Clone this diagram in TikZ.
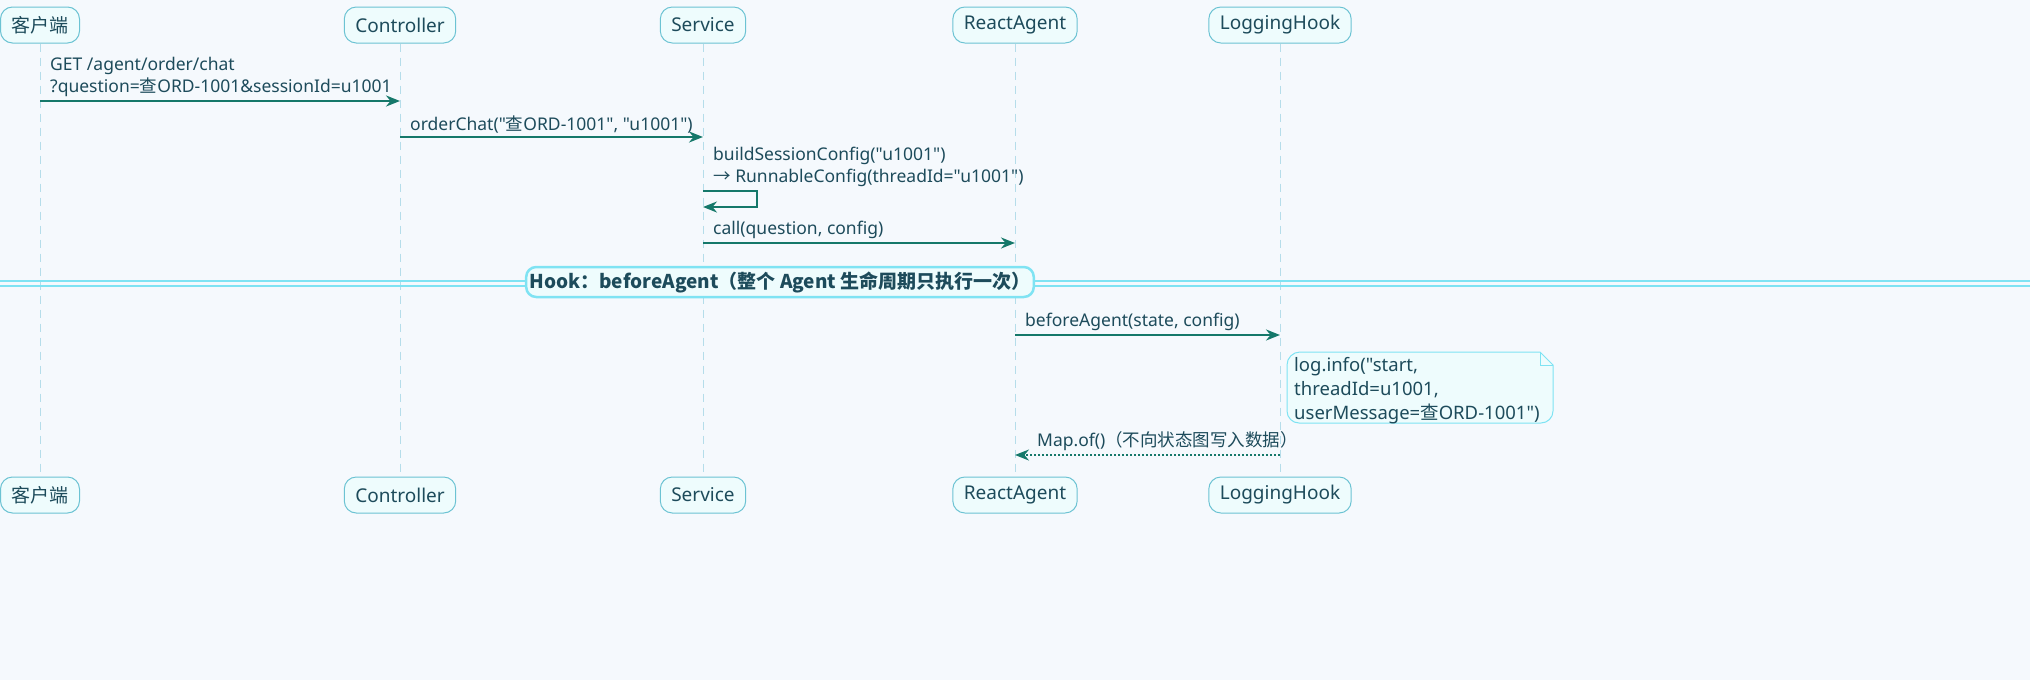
\documentclass[tikz,border=0pt]{standalone}
\usepackage{fontspec}
\setmainfont{Noto Sans}[Ligatures=TeXOff]
\newfontfamily\cjk{Noto Sans CJK SC}[Ligatures=TeXOff]
\usetikzlibrary{arrows.meta}
\definecolor{bgcol}{HTML}{F5F9FD}
\definecolor{boxfill}{HTML}{EEFCFD}
\definecolor{boxline}{HTML}{6CC3D3}
\definecolor{lifecol}{HTML}{B5DDEA}
\definecolor{msgcol}{HTML}{15786A}
\definecolor{txtcol}{HTML}{1D4B5B}
\definecolor{sepcol}{HTML}{7FE3F3}
\newcommand{\zh}[1]{{\cjk #1}}
\tikzset{
  actor/.style={draw=boxline, line width=1pt, fill=boxfill, rounded corners=12pt, minimum height=36pt, inner xsep=11pt, text=txtcol, font=\fontsize{19}{22}\selectfont},
  lifeline/.style={draw=lifecol, dash pattern=on 8pt off 6pt, line width=1pt},
  msg/.style={draw=msgcol, line width=2pt, -{Stealth[length=14pt,width=11pt]}},
  reply/.style={msg, dash pattern=on 2pt off 2pt},
  lbl/.style={anchor=south west, inner sep=0pt, text=txtcol, font=\fontsize{17.5}{22}\selectfont, align=left}
}
\begin{document}
\begin{tikzpicture}[x=1pt,y=-1pt]
  \fill[bgcol] (0,0) rectangle (2030,680);
  \useasboundingbox (0,0) rectangle (2030,680);

  % Teilnehmer oben und unten
  \foreach \name/\x/\txt in {cl/40/\zh{客户端}, ctrl/400/Controller, svc/703/Service, ra/1015/ReactAgent, lh/1280/LoggingHook} {
    \node[actor] (\name top) at (\x,25) {\txt};
    \node[actor] (\name bot) at (\x,495) {\txt};
    \draw[lifeline] (\name top.south) -- (\name bot.north);
  }

  % Nachrichten
  \coordinate (m1a) at (40,101);   \coordinate (m1b) at (400,101);
  \draw[msg] (m1a) -- (m1b);
  \node[lbl] at (50,97) {GET /agent/order/chat\\?question=\zh{查}ORD-1001\&sessionId=u1001};

  \coordinate (m2a) at (400,137);  \coordinate (m2b) at (703,137);
  \draw[msg] (m2a) -- (m2b);
  \node[lbl] at (410,133) {orderChat("\zh{查}ORD-1001", "u1001")};

  \coordinate (s1) at (703,191);   \coordinate (s2) at (757,191);
  \coordinate (s3) at (757,207);   \coordinate (s4) at (703,207);
  \draw[msg] (s1) -- (s2) -- (s3) -- (s4);
  \node[lbl] at (713,187) {buildSessionConfig("u1001")\\\zh{→} RunnableConfig(threadId="u1001")};

  \coordinate (m4a) at (703,243);  \coordinate (m4b) at (1015,243);
  \draw[msg] (m4a) -- (m4b);
  \node[lbl] at (713,239) {call(question, config)};

  % Trenner
  \draw[sepcol, line width=1.5pt] (0,281) -- (2030,281) (0,286) -- (2030,286);
  \node[draw=sepcol, line width=2.5pt, fill=boxfill, rounded corners=10pt, minimum width=486pt, minimum height=30pt, text=txtcol, font=\fontsize{19}{22}\cjk\bfseries] (sep) at (780,282) {Hook：beforeAgent（整个 Agent 生命周期只执行一次）};

  \coordinate (m5a) at (1015,335); \coordinate (m5b) at (1280,335);
  \draw[msg] (m5a) -- (m5b);
  \node[lbl] at (1025,331) {beforeAgent(state, config)};

  % Notiz
  \draw[draw=sepcol, fill=boxfill, line width=1pt] (1300,352) -- (1540,352) -- (1553,365) -- (1553,411) arc (0:90:12) -- (1299,423) arc (90:180:12) -- (1287,365) arc (180:270:13) -- cycle;
  \draw[draw=sepcol, line width=1pt] (1540,352) -- (1540,365) -- (1553,365);
  \node[lbl, anchor=north west, font=\fontsize{18.5}{24}\selectfont] (note) at (1294,357) {log.info("start,\\threadId=u1001,\\userMessage=\zh{查}ORD-1001")};

  \coordinate (m6a) at (1280,455); \coordinate (m6b) at (1015,455);
  \draw[reply] (m6a) -- (m6b);
  \node[lbl] at (1037,451) {Map.of()\zh{（不向状态图写入数据）}};
\end{tikzpicture}
\end{document}
